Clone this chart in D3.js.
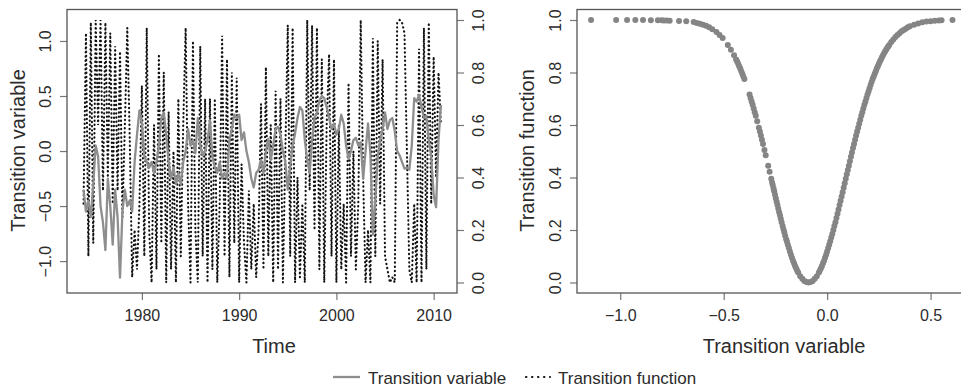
<!DOCTYPE html>
<html>
<head>
<meta charset="utf-8">
<script src="https://cdn.jsdelivr.net/npm/d3@7/dist/d3.min.js"></script>
<style>
  body { margin: 0; background: #fff; }
  svg text { font-family: "Liberation Sans", Arial, Helvetica, sans-serif; fill: #2b2b2b; }
</style>
</head>
<body>
<svg id="chart" width="961" height="390"></svg>
<script>
// quarterly observations, 1974Q1 .. 2010Q4
const startYear = 1974;

const transitionVariable = [
  -0.35, -0.55, -0.45, -0.6,
  -0.3, 0.05, -0.05, -0.5,
  -0.65, -0.9, -0.25, -0.5,
  -0.85, -0.35, -0.6, -1.15,
  -0.55, -0.35, -0.5, -0.45,
  -0.55, -0.1, 0.15, 0.37,
  0.25, -0.05, -0.1, -0.15,
  -0.1, -0.2, -0.1, 0.05,
  0.3, 0.35, 0.15, -0.1,
  -0.25, -0.15, -0.3, -0.2,
  -0.3, -0.1, 0.0, 0.2,
  0.05, 0.1, -0.02, 0.3,
  0.05, -0.04, 0.0, 0.1,
  0.28, -0.05, -0.15, -0.2,
  -0.1, -0.25, -0.2, -0.25,
  0.1, 0.2, 0.33, 0.3,
  0.33, 0.1, 0.17, 0.0,
  -0.1, -0.25, -0.33, -0.2,
  -0.17, -0.08, -0.2, 0.0,
  0.11, -0.08, 0.05, 0.2,
  0.22, 0.15, 0.0, -0.1,
  -0.35, -0.14, 0.05, 0.16,
  0.3, 0.4, 0.37, 0.1,
  -0.08, -0.2, 0.1, 0.3,
  0.35, 0.46, 0.5, 0.48,
  0.4, 0.3, 0.2, 0.25,
  0.15, 0.2, 0.33, 0.25,
  0.05, -0.07, 0.0, 0.1,
  0.12, 0.05, 0.08, -0.25,
  0.0, 0.25, -0.03, -0.76,
  -0.45, -0.05, 0.1, 0.2,
  0.35, 0.2, 0.28, 0.3,
  0.18, 0.0, -0.04, -0.1,
  -0.16, -0.15, -0.17, 0.05,
  0.48, 0.45, 0.51, 0.4,
  0.3, 0.32, 0.1, -0.05,
  -0.4, -0.51, 0.1, 0.42
];

const transitionFunction = [
  0.3, 0.95, 0.1, 0.99, 0.15, 1.0, 0.6, 1.0,
  0.35, 0.99, 0.4, 0.95, 0.3, 0.9, 0.35, 0.88,
  0.25, 0.6, 0.97, 0.55, 0.02, 0.2, 0.05, 0.3,
  0.75, 0.1, 0.97, 0.2, 0.0, 0.6, 0.05, 0.87,
  0.15, 0.8, 0.0, 0.65, 0.05, 0.5, 0.0, 0.7,
  0.1, 0.6, 0.97, 0.3, 0.0, 0.92, 0.2, 0.0,
  0.9, 0.1, 0.7, 0.0, 0.7, 0.05, 0.7, 0.0,
  0.3, 0.94, 0.1, 0.85, 0.02, 0.8, 0.15, 0.78,
  0.0, 0.45, 0.15, 0.0, 0.35, 0.05, 0.3, 0.02,
  0.2, 0.68, 0.05, 0.82, 0.1, 0.6, 0.0, 0.73,
  0.05, 0.7, 0.0, 0.5, 0.98, 0.1, 0.97, 0.0,
  0.4, 0.02, 0.3, 0.0, 1.0, 0.35, 0.98, 0.2,
  0.97, 0.05, 0.85, 0.0, 0.6, 0.87, 0.1, 0.85,
  0.0, 0.6, 0.05, 0.3, 0.0, 0.76, 0.1, 0.5,
  0.05, 0.3, 1.0, 0.4, 0.0, 0.2, 0.0, 0.93,
  0.1, 0.92, 0.3, 0.85, 0.1, 0.05, 0.0, 0.02,
  0.0, 0.99, 1.0, 0.99, 0.95, 0.5, 0.05, 0.0,
  0.3, 0.0, 0.89, 0.0, 0.97, 0.05, 0.99, 0.3,
  0.86, 0.4, 0.8, 0.6
];

// scatter of transition function against transition variable
const scatterX = [
  -1.141, -1.02, -0.967, -0.927, -0.89, -0.852, -0.818, -0.8, -0.789, -0.775, -0.761, -0.716, -0.681,
  -0.645, -0.63, -0.615, -0.6, -0.585, -0.57, -0.555, -0.535, -0.52, -0.505, -0.48, -0.465, -0.45,
  -0.44, -0.43, -0.42, -0.41, -0.4, -0.375, -0.365, -0.355, -0.345, -0.338, -0.33, -0.32,
  -0.31, -0.303, -0.297, -0.285, -0.278, -0.27, -0.263, -0.256, -0.248, -0.24, -0.232, -0.224,
  -0.215, -0.207, -0.198, -0.19, -0.18, -0.17, -0.16, -0.15, -0.14, -0.13, -0.12, -0.11, -0.1,
  -0.09, -0.08, -0.07, -0.06, -0.05, -0.04, -0.03, -0.02, -0.01, 0.0, 0.01, 0.02, 0.03, 0.04,
  0.05, 0.06, 0.07, 0.08, 0.09, 0.1, 0.11, 0.12, 0.13, 0.14, 0.15, 0.16, 0.17, 0.18, 0.19, 0.2,
  0.21, 0.22, 0.23, 0.24, 0.25, 0.26, 0.27, 0.28, 0.29, 0.3, 0.31, 0.32, 0.33, 0.34, 0.35, 0.36,
  0.37, 0.38, 0.39, 0.4, 0.42, 0.44, 0.46, 0.48, 0.5, 0.52, 0.54, 0.553, 0.606,
  -0.035, -0.025, -0.015, -0.005, 0.005, 0.015, 0.025, 0.035, 0.045, 0.055, 0.065, 0.075, 0.085,
  0.095, 0.105, 0.115, 0.125, 0.135, 0.145, 0.155, 0.165, 0.175, 0.185, 0.195, 0.205, 0.215,
  0.225, 0.235, 0.245, 0.255, 0.265, 0.275, 0.285, 0.295,
  -0.435, -0.425, -0.415, -0.405, -0.37, -0.36, -0.35, -0.325, -0.315, -0.266, -0.259, -0.252,
  -0.244, -0.236, -0.228, -0.22, -0.211, -0.203, -0.194, -0.185, -0.175, -0.165, -0.155, -0.145
];

const scatterY = [
  1.0, 1.0, 1.0, 1.0, 1.0, 0.999, 0.999, 0.999, 0.998, 0.998, 0.997, 0.996, 0.995,
  0.992, 0.989, 0.986, 0.982, 0.978, 0.972, 0.965, 0.954, 0.943, 0.931, 0.905, 0.887, 0.866,
  0.85, 0.833, 0.815, 0.795, 0.775, 0.716, 0.69, 0.663, 0.635, 0.614, 0.59, 0.56,
  0.528, 0.505, 0.485, 0.445, 0.422, 0.395, 0.371, 0.348, 0.321, 0.295, 0.268, 0.243,
  0.215, 0.191, 0.165, 0.144, 0.118, 0.094, 0.073, 0.054, 0.038, 0.024, 0.014, 0.006, 0.002,
  0.0, 0.002, 0.006, 0.014, 0.024, 0.038, 0.054, 0.073, 0.094, 0.118, 0.144, 0.171, 0.2, 0.23,
  0.262, 0.295, 0.328, 0.361, 0.395, 0.429, 0.462, 0.495, 0.528, 0.56, 0.59, 0.62, 0.649, 0.677, 0.703, 0.728,
  0.752, 0.775, 0.795, 0.815, 0.833, 0.85, 0.866, 0.88, 0.893, 0.905, 0.916, 0.926, 0.935, 0.943, 0.95, 0.957,
  0.962, 0.967, 0.972, 0.976, 0.982, 0.987, 0.991, 0.994, 0.995, 0.997, 0.998, 0.999, 1.0,
  0.046, 0.063, 0.083, 0.106, 0.131, 0.157, 0.185, 0.215, 0.246, 0.278, 0.311, 0.344, 0.378,
  0.412, 0.445, 0.479, 0.512, 0.544, 0.575, 0.605, 0.635, 0.663, 0.69, 0.716, 0.74, 0.764,
  0.785, 0.805, 0.824, 0.842, 0.858, 0.873, 0.887, 0.899,
  0.842, 0.824, 0.805, 0.785, 0.703, 0.677, 0.649, 0.575, 0.544, 0.381, 0.358, 0.334,
  0.308, 0.281, 0.256, 0.23, 0.203, 0.178, 0.155, 0.131, 0.106, 0.083, 0.063, 0.046
];

const timeTicks = [1980, 1990, 2000, 2010];
const leftTicks = [-1.0, -0.5, 0.0, 0.5, 1.0];
const fnTicks = [0.0, 0.2, 0.4, 0.6, 0.8, 1.0];
const varTicks = [-1.0, -0.5, 0.0, 0.5];

const svg = d3.select("#chart");
const fmt = d3.format(".1f");
const boxTop = 9.5, boxBottom = 293;
const grayCol = "#8e8e8e";

const series = transitionVariable.map((v, i) => ({
  t: startYear + i / 4, v: v, g: transitionFunction[i]
}));

// ---- left panel ----
const x = d3.scaleLinear().domain([1972.3, 2012.4]).range([67, 457]);
const yVar = d3.scaleLinear().domain([-1.29, 1.286]).range([boxBottom, boxTop]);
const yFn = d3.scaleLinear().domain([-0.04, 1.04]).range([boxBottom, boxTop]);

svg.append("path")
  .datum(series)
  .attr("fill", "none")
  .attr("stroke", "#111")
  .attr("stroke-width", 2.1)
  .attr("stroke-linecap", "round")
  .attr("stroke-dasharray", "0.4,3.8")
  .attr("d", d3.line().x(d => x(d.t)).y(d => yFn(d.g)));

svg.append("path")
  .datum(series)
  .attr("fill", "none")
  .attr("stroke", grayCol)
  .attr("stroke-width", 2.3)
  .attr("stroke-linejoin", "round")
  .attr("d", d3.line().x(d => x(d.t)).y(d => yVar(d.v)));

function styleAxis(g) {
  g.select(".domain").remove();
  g.selectAll("line").attr("stroke", "#777").attr("stroke-width", 1.2);
  g.selectAll("text").style("font-size", "16px").attr("fill", "#2b2b2b");
}

function rotateLabels(g, off) {
  g.selectAll("text")
    .attr("transform", "rotate(-90)")
    .attr("x", 0)
    .attr("y", off)
    .attr("dy", 0)
    .attr("text-anchor", "middle");
}

svg.append("g")
  .attr("transform", `translate(0,${boxBottom})`)
  .call(d3.axisBottom(x).tickValues(timeTicks).tickSize(7).tickFormat(d3.format("d")))
  .call(styleAxis)
  .call(g => g.selectAll("text").attr("y", 27.7).attr("dy", 0));

svg.append("g")
  .attr("transform", "translate(67,0)")
  .call(d3.axisLeft(yVar).tickValues(leftTicks).tickSize(7).tickFormat(fmt))
  .call(styleAxis)
  .call(g => rotateLabels(g, -16.3));

svg.append("g")
  .attr("transform", "translate(457,0)")
  .call(d3.axisRight(yFn).tickValues(fnTicks).tickSize(7).tickFormat(fmt))
  .call(styleAxis)
  .call(g => rotateLabels(g, 26.7));

svg.append("rect")
  .attr("x", 67).attr("y", boxTop)
  .attr("width", 390).attr("height", boxBottom - boxTop)
  .attr("fill", "none").attr("stroke", "#555").attr("stroke-width", 1.3);

svg.append("text")
  .attr("x", 274).attr("y", 352.9)
  .attr("text-anchor", "middle")
  .style("font-size", "20px")
  .text("Time");

svg.append("text")
  .attr("transform", "translate(24.7,150.5) rotate(-90)")
  .attr("text-anchor", "middle")
  .style("font-size", "20px")
  .text("Transition variable");

// ---- right panel ----
const xs = d3.scaleLinear().domain([-1.209, 0.676]).range([577, 967]);

svg.append("g")
  .selectAll("circle")
  .data(scatterX)
  .enter().append("circle")
    .attr("cx", d => xs(d))
    .attr("cy", (d, i) => yFn(scatterY[i]))
    .attr("r", 3)
    .attr("fill", "#858585");

svg.append("g")
  .attr("transform", `translate(0,${boxBottom})`)
  .call(d3.axisBottom(xs).tickValues(varTicks).tickSize(7).tickFormat(fmt))
  .call(styleAxis)
  .call(g => g.selectAll("text").attr("y", 27.7).attr("dy", 0));

svg.append("g")
  .attr("transform", "translate(577,0)")
  .call(d3.axisLeft(yFn).tickValues(fnTicks).tickSize(7).tickFormat(fmt))
  .call(styleAxis)
  .call(g => rotateLabels(g, -15.6));

svg.append("rect")
  .attr("x", 577).attr("y", boxTop)
  .attr("width", 390).attr("height", boxBottom - boxTop)
  .attr("fill", "none").attr("stroke", "#555").attr("stroke-width", 1.3);

svg.append("text")
  .attr("x", 784).attr("y", 352.9)
  .attr("text-anchor", "middle")
  .style("font-size", "20px")
  .text("Transition variable");

svg.append("text")
  .attr("transform", "translate(533.9,150.5) rotate(-90)")
  .attr("text-anchor", "middle")
  .style("font-size", "20px")
  .text("Transition function");

// ---- legend ----
const legend = svg.append("g");
legend.append("line")
  .attr("x1", 333).attr("x2", 360).attr("y1", 377).attr("y2", 377)
  .attr("stroke", grayCol).attr("stroke-width", 2.3);
legend.append("text")
  .attr("x", 368).attr("y", 383.5)
  .style("font-size", "17px")
  .text("Transition variable");
legend.append("line")
  .attr("x1", 526).attr("x2", 550).attr("y1", 377).attr("y2", 377)
  .attr("stroke", "#111").attr("stroke-width", 2.1)
  .attr("stroke-linecap", "round")
  .attr("stroke-dasharray", "0.4,5.6");
legend.append("text")
  .attr("x", 558).attr("y", 383.5)
  .style("font-size", "17px")
  .text("Transition function");
</script>
</body>
</html>
